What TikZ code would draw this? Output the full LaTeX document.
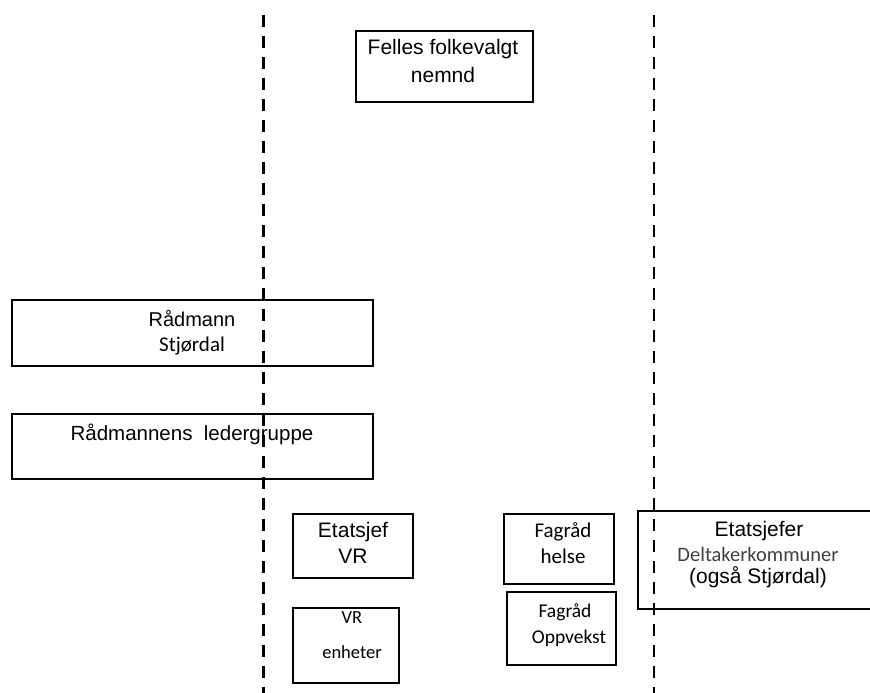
\documentclass[tikz,border=0pt]{standalone}
\usepackage{fontspec}
\setmainfont{Liberation Sans}
\newfontfamily\calib{Carlito}
\begin{document}
\begin{tikzpicture}[x=1pt,y=-1pt,
  box/.style={draw=black,line width=2pt,rectangle,inner sep=0pt,anchor=north west},
  divider/.style={line width=2.6pt,dash pattern=on 12pt off 9pt},
  lbl/.style={anchor=base,inner sep=0pt},
  big/.style={font=\fontsize{21}{24}\selectfont},
  cal/.style={font=\calib\fontsize{21}{24}\selectfont}]
\useasboundingbox (0,0) rectangle (870,693);
% boxes
\node[box,minimum width=177pt,minimum height=71pt] (nemnd) at (355,30) {};
\node[box,minimum width=361pt,minimum height=66pt] (radmann) at (11,299) {};
\node[box,minimum width=361pt,minimum height=65pt] (ledergr) at (11,413) {};
\node[box,minimum width=120pt,minimum height=64pt] (etatvr) at (292,513) {};
\node[box,minimum width=106pt,minimum height=75pt] (vrenh) at (292,607) {};
\node[box,minimum width=110pt,minimum height=70pt] (helse) at (503,513) {};
\node[box,minimum width=109pt,minimum height=73pt] (oppv) at (506,591) {};
\node[box,minimum width=245pt,minimum height=98pt] (etatdk) at (637,510) {};
% dividing lines, drawn over the boxes
\coordinate (d1t) at (263.5,15);
\coordinate (d1b) at (263.5,693);
\coordinate (d2t) at (654,15);
\coordinate (d2b) at (654,693);
\draw[divider] (d1t) -- (d1b);
\draw[divider] (d2t) -- (d2b);
% texts
\node[lbl,big] (t1) at (443,55) {Felles folkevalgt};
\node[lbl,big] (t2) at (443,82) {nemnd};
\node[lbl,font=\fontsize{20}{24}\selectfont] (t3) at (192,326) {Rådmann};
\node[lbl,cal] (t4) at (192,351) {Stjørdal};
\node[lbl,font=\fontsize{20.5}{24}\selectfont] (t5) at (192,440) {Rådmannens\ \ ledergruppe};
\node[lbl,big] (t6) at (353,537) {Etatsjef};
\node[lbl,big] (t7) at (353,563) {VR};
\node[lbl,font=\calib\fontsize{18.5}{22}\selectfont] (t8) at (352,623) {VR};
\node[lbl,font=\calib\fontsize{18.5}{22}\selectfont] (t9) at (352,658) {enheter};
\node[lbl,cal] (t10) at (563,537) {Fagråd};
\node[lbl,cal] (t11) at (563,563) {helse};
\node[lbl,font=\calib\fontsize{19.5}{22}\selectfont] (t12) at (565,617) {Fagråd};
\node[lbl,font=\calib\fontsize{19.5}{22}\selectfont] (t13) at (569,643) {Oppvekst};
\node[lbl,big] (t14) at (759,536) {Etatsjefer};
\node[lbl,font=\calib\fontsize{20.5}{24}\selectfont,text=black!75] (t15) at (758,561) {Deltakerkommuner};
\node[lbl,big] (t16) at (758,583) {(også Stjørdal)};
\end{tikzpicture}
\end{document}
